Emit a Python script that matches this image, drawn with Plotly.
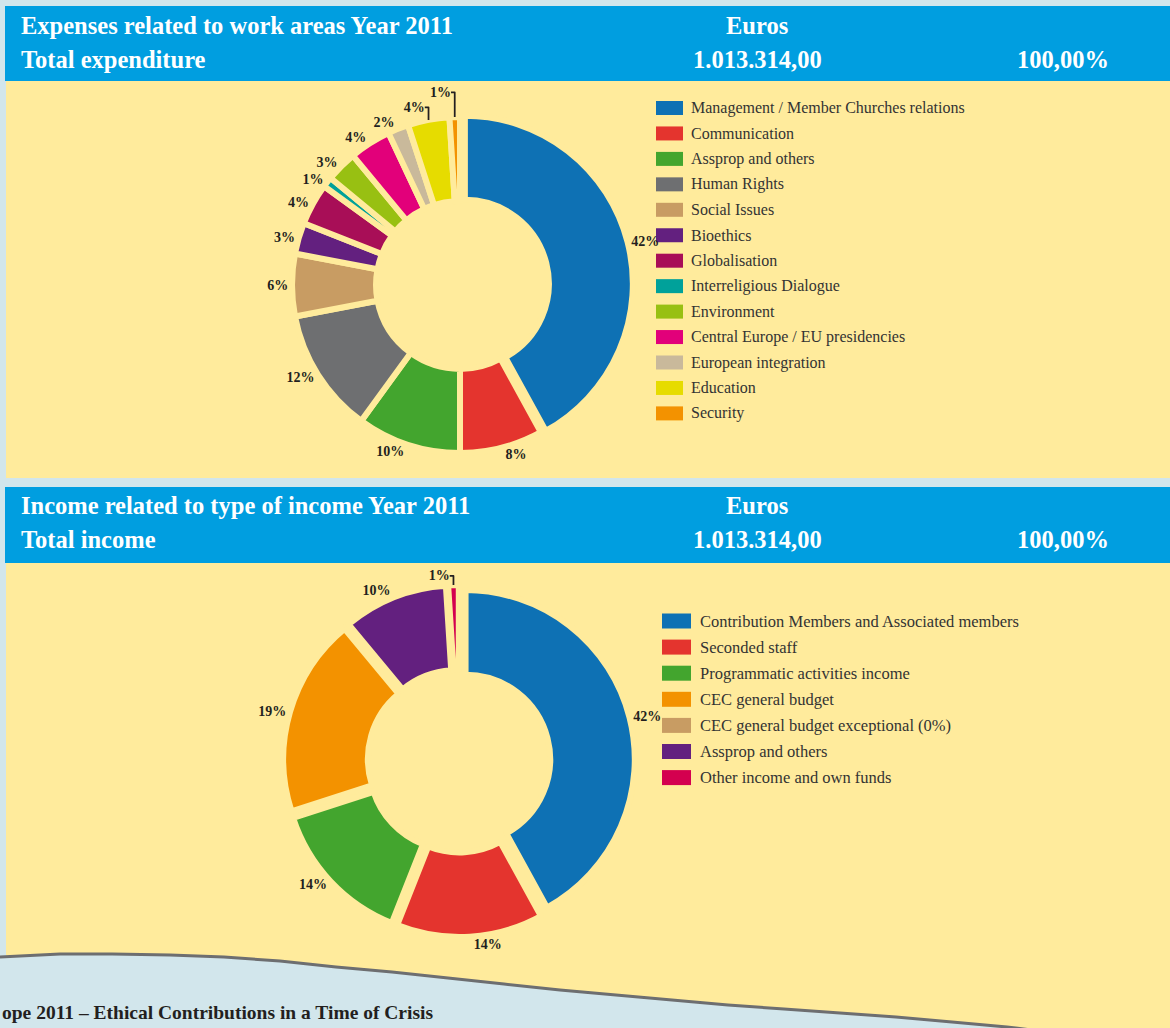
import plotly.graph_objects as go

W, H = 1170, 1028

# ---------------- data ----------------
exp_labels = ["Management / Member Churches relations", "Communication", "Assprop and others",
              "Human Rights", "Social Issues", "Bioethics", "Globalisation",
              "Interreligious Dialogue", "Environment", "Central Europe / EU presidencies",
              "European integration", "Education", "Security"]
exp_pct = [42, 8, 10, 12, 6, 3, 4, 1, 3, 4, 2, 4, 1]
exp_colors = ["#0e71b4", "#e4342e", "#43a52e", "#6e6f71", "#c89c63", "#63207f", "#a80e57",
              "#00a19a", "#98c012", "#e2007a", "#c9b99b", "#e6dc00", "#f39200"]

inc_labels = ["Contribution Members and Associated members", "Seconded staff",
              "Programmatic activities income", "CEC general budget",
              "CEC general budget exceptional (0%)", "Assprop and others",
              "Other income and own funds"]
inc_pct = [42, 14, 14, 19, 0, 10, 1]
inc_colors = ["#0e71b4", "#e4342e", "#43a52e", "#f39200", "#c89c63", "#63207f", "#d4004f"]

header_titles = ["Expenses related to work areas Year 2011", "Income related to type of income Year 2011"]
header_totals = ["Total expenditure", "Total income"]
currency = "Euros"
total_amount = "1.013.314,00"
total_share = "100,00%"
footer = "ope 2011 \u2013 Ethical Contributions in a Time of Crisis"

# ---------------- styles ----------------
BG = "#d2e6ec"
BLUE = "#009ee0"
YELLOW = "#ffeb9c"
SERIF = "Liberation Serif"
DARK = "#231f20"


def px(x):
    return x / W


def py(y):
    return 1 - y / H


fig = go.Figure()


def add_donut(labels, values, colors, cx, cy, r, hole, gap, pulls):
    fig.add_trace(go.Pie(
        labels=labels, values=values, sort=False, direction="clockwise", rotation=0,
        hole=hole,
        text=[f"{v}%" if v > 0 else "" for v in values],
        textinfo="text", textposition="outside",
        textfont=dict(family=SERIF, size=14, color=DARK, weight="bold"),
        marker=dict(colors=colors, line=dict(color=YELLOW, width=gap)),
        pull=pulls,
        domain=dict(x=[px(cx - r), px(cx + r)], y=[py(cy + r), py(cy - r)]),
        showlegend=False, hoverinfo="label+percent",
    ))


add_donut(exp_labels, exp_pct, exp_colors, 460, 285, 173, 0.5, 6,
          [0.03] + [0] * (len(exp_pct) - 1))
add_donut(inc_labels, inc_pct, inc_colors, 459, 761, 176, 0.5, 6,
          [0.04] * len(inc_pct))

shapes = []
annotations = []


def rect(x0, y0, x1, y1, color):
    shapes.append(dict(type="rect", xref="paper", yref="paper", layer="below",
                       x0=px(x0), x1=px(x1), y0=py(y1), y1=py(y0),
                       fillcolor=color, line=dict(width=0)))


def text(x, y, s, size, color=DARK, bold=False, xanchor="left", family=SERIF):
    annotations.append(dict(xref="paper", yref="paper", x=px(x), y=py(y), text=s,
                            showarrow=False, xanchor=xanchor, yanchor="middle",
                            font=dict(family=family, size=size, color=color,
                                      weight="bold" if bold else "normal")))


# panels
rect(5, 6, 1170, 81, BLUE)
rect(6, 81, 1170, 478, YELLOW)
rect(5, 487, 1170, 563, BLUE)
rect(6, 563, 1170, 1028, YELLOW)

# wave at bottom
wave = [(0, 957), (60, 954), (112, 954), (170, 955), (224, 957), (280, 961), (336, 967),
        (392, 972), (448, 978), (504, 984), (560, 990), (616, 995), (672, 1000),
        (728, 1005), (784, 1009), (840, 1013), (896, 1017), (952, 1022), (1007, 1027),
        (1040, 1031)]
pts = " L ".join(f"{px(x):.5f},{py(y):.5f}" for x, y in wave)
area = f"M {px(0):.5f},{py(1030):.5f} L {pts} L {px(1040):.5f},{py(1035):.5f} Z"
shapes.append(dict(type="path", xref="paper", yref="paper", layer="below", path=area,
                   fillcolor=BG, line=dict(width=0)))
shapes.append(dict(type="path", xref="paper", yref="paper", layer="below",
                   path="M " + pts, line=dict(color="#6d6e70", width=3)))

# headers
for k, (ty1, ty2) in enumerate([(25, 59), (505, 539)]):
    text(19, ty1, header_titles[k], 24.5, "white", True)
    text(19, ty2, header_totals[k], 24.5, "white", True)
    text(757, ty1, currency, 24.5, "white", True, "center")
    text(757, ty2, total_amount, 24.5, "white", True, "center")
    text(1111, ty2, total_share, 24.5, "white", True, "right")

# legends
for i, (lab, col) in enumerate(zip(exp_labels, exp_colors)):
    yc = 108 + 25.45 * i
    rect(656, yc - 7, 683, yc + 7, col)
    text(689, yc, lab, 16, "#333333")

for i, (lab, col) in enumerate(zip(inc_labels, inc_colors)):
    yc = 621 + 26.1 * i
    rect(662, yc - 7.5, 691, yc + 7.5, col)
    text(698, yc, lab, 16.5, "#333333")

# footer
text(0, 1012, footer, 19.5, DARK, True)

fig.update_layout(
    width=W, height=H, autosize=False,
    margin=dict(l=0, r=0, t=0, b=0),
    paper_bgcolor=BG, plot_bgcolor=BG,
    shapes=shapes, annotations=annotations,
    showlegend=False,
)

fig.write_html("out.html", config={"displayModeBar": False},
               post_script="document.body.style.margin='0px';")
